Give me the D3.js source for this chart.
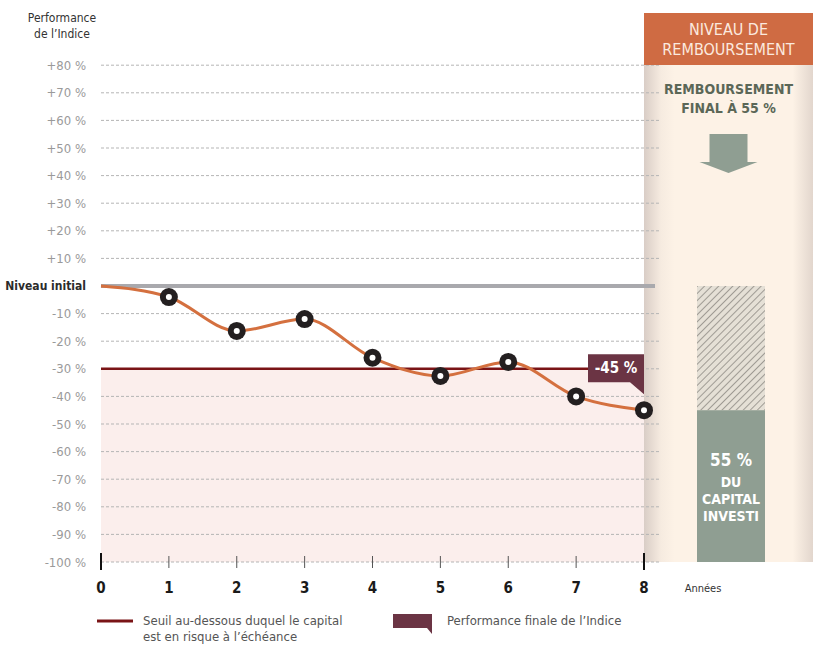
<!DOCTYPE html>
<html>
<head>
<meta charset="utf-8">
<script src="https://cdn.jsdelivr.net/npm/d3@7"></script>
<style>
  body { margin: 0; background: #fff; }
  svg { display: block; font-family: "Liberation Sans Narrow", "DejaVu Sans Condensed", "Roboto", sans-serif; }
</style>
</head>
<body>
<svg id="chart"></svg>
<script>
'use strict'

const width = 813,
      height = 645

// data
const years = [0, 1, 2, 3, 4, 5, 6, 7, 8]
const performance = [0, -4, -16.3, -12, -26, -32.6, -27.5, -40, -45]
const yTicks = [80, 70, 60, 50, 40, 30, 20, 10, 0, -10, -20, -30, -40, -50, -60, -70, -80, -90, -100]
const threshold = -30
const finalValue = -45
const repayment = 55

const svg = d3.select("#chart")
  .attr("width", width)
  .attr("height", height)

const x = d3.scaleLinear().domain([0, 8]).range([101, 644])
const y = d3.scaleLinear().domain([-100, 0]).range([562, 286])

const defs = svg.append("defs")
const grad = defs.append("linearGradient").attr("id", "panelShade")
grad.append("stop").attr("offset", "0%").attr("stop-color", "#d9cdc6")
grad.append("stop").attr("offset", "10%").attr("stop-color", "#f6ebe0")
grad.append("stop").attr("offset", "18%").attr("stop-color", "#fdf2e6")
grad.append("stop").attr("offset", "88%").attr("stop-color", "#fdf2e6")
grad.append("stop").attr("offset", "100%").attr("stop-color", "#e2d6cd")

const hatch = defs.append("pattern")
  .attr("id", "hatch")
  .attr("patternUnits", "userSpaceOnUse")
  .attr("width", 5).attr("height", 5)
  .attr("patternTransform", "rotate(45)")
hatch.append("rect").attr("width", 5).attr("height", 5).attr("fill", "#e5e0d6")
hatch.append("line").attr("x1", 0).attr("y1", 0).attr("x2", 0).attr("y2", 5)
  .attr("stroke", "#4a4744").attr("stroke-width", 0.9)

// risk zone below threshold
svg.append("rect")
  .attr("x", x(0)).attr("y", y(threshold))
  .attr("width", x(8) - x(0)).attr("height", y(-100) - y(threshold))
  .attr("fill", "#fbeeec")

// right panel
const panelX = 644
svg.append("rect")
  .attr("x", panelX).attr("y", 65)
  .attr("width", width - panelX).attr("height", y(-100) - 65)
  .attr("fill", "url(#panelShade)")

// gridlines
svg.append("g")
  .selectAll("line")
  .data(yTicks.filter(d => d !== 0))
  .enter().append("line")
    .attr("x1", x(0)).attr("x2", 660)
    .attr("y1", d => y(d)).attr("y2", d => y(d))
    .attr("stroke", "#b5b5b5")
    .attr("stroke-width", 1)
    .attr("stroke-dasharray", "3,2")

// y labels
svg.append("g")
  .selectAll("text")
  .data(yTicks)
  .enter().append("text")
    .attr("x", 86)
    .attr("y", d => y(d))
    .attr("dy", "0.35em")
    .attr("text-anchor", "end")
    .attr("font-size", d => d === 0 ? 12 : 13)
    .attr("font-weight", d => d === 0 ? "bold" : "normal")
    .attr("fill", d => d === 0 ? "#2b2b2b" : "#9a9a9a")
    .text(d => d === 0 ? "Niveau initial" : (d > 0 ? "+" + d : "-" + Math.abs(d)) + " %")

svg.append("text")
  .attr("x", 62).attr("y", 22)
  .attr("text-anchor", "middle").attr("font-size", 12).attr("fill", "#333")
  .text("Performance")
svg.append("text")
  .attr("x", 62).attr("y", 38)
  .attr("text-anchor", "middle").attr("font-size", 12).attr("fill", "#333")
  .text("de l\u2019Indice")

// initial level line
svg.append("line")
  .attr("x1", x(0)).attr("x2", 655)
  .attr("y1", y(0)).attr("y2", y(0))
  .attr("stroke", "#a9a9ad").attr("stroke-width", 4)

// threshold line
svg.append("line")
  .attr("x1", x(0)).attr("x2", x(8))
  .attr("y1", y(threshold)).attr("y2", y(threshold))
  .attr("stroke", "#7a1416").attr("stroke-width", 2.5)

// x ticks
svg.append("g")
  .selectAll("line")
  .data(years)
  .enter().append("line")
    .attr("x1", d => x(d)).attr("x2", d => x(d))
    .attr("y1", d => (d === 0 || d === 8) ? 553 : 556)
    .attr("y2", d => (d === 0 || d === 8) ? 570 : 568)
    .attr("stroke", d => (d === 0 || d === 8) ? "#111" : "#555")
    .attr("stroke-width", d => (d === 0 || d === 8) ? 2 : 1)

svg.append("g")
  .selectAll("text")
  .data(years)
  .enter().append("text")
    .attr("x", d => x(d)).attr("y", 593)
    .attr("text-anchor", "middle")
    .attr("font-size", 15).attr("font-weight", "bold").attr("fill", "#1a1a1a")
    .text(d => d)

svg.append("text")
  .attr("x", 703).attr("y", 592)
  .attr("text-anchor", "middle").attr("font-size", 11).attr("fill", "#333")
  .text("Années")

// performance curve
const line = d3.line()
  .x((d, i) => x(years[i]))
  .y(d => y(d))
  .curve(d3.curveMonotoneX)

svg.append("path")
  .datum(performance)
  .attr("d", line)
  .attr("fill", "none")
  .attr("stroke", "#d4703f")
  .attr("stroke-width", 3)

const markers = svg.append("g")
  .selectAll("g")
  .data(performance.slice(1))
  .enter().append("g")
    .attr("transform", (d, i) => `translate(${x(years[i + 1])},${y(d)})`)
markers.append("circle").attr("r", 9).attr("fill", "#231f20")
markers.append("circle").attr("r", 3).attr("fill", "#fff")

// final value label
const lx = x(8), ly = y(finalValue)
svg.append("path")
  .attr("d", `M${lx - 56},${ly - 56} H${lx} V${ly - 16} L${lx - 14},${ly - 28} H${lx - 56} Z`)
  .attr("fill", "#6b3444")
svg.append("text")
  .attr("x", lx - 28).attr("y", ly - 42)
  .attr("dy", "0.35em")
  .attr("text-anchor", "middle")
  .attr("font-size", 15).attr("font-weight", "bold").attr("fill", "#fff")
  .text(finalValue + " %")

// panel header
svg.append("rect")
  .attr("x", panelX).attr("y", 13)
  .attr("width", width - panelX).attr("height", 52)
  .attr("fill", "#cf6b43")
const cx = (panelX + width) / 2
svg.append("text").attr("x", cx).attr("y", 35)
  .attr("text-anchor", "middle").attr("font-size", 16).attr("fill", "#fbe9df")
  .text("NIVEAU DE")
svg.append("text").attr("x", cx).attr("y", 55)
  .attr("text-anchor", "middle").attr("font-size", 16).attr("fill", "#fbe9df")
  .text("REMBOURSEMENT")

svg.append("text").attr("x", cx).attr("y", 94)
  .attr("text-anchor", "middle").attr("font-size", 14).attr("font-weight", "bold").attr("fill", "#5b6757")
  .text("REMBOURSEMENT")
svg.append("text").attr("x", cx).attr("y", 113)
  .attr("text-anchor", "middle").attr("font-size", 14).attr("font-weight", "bold").attr("fill", "#5b6757")
  .text("FINAL À " + repayment + " %")

// arrow
svg.append("path")
  .attr("d", `M${cx - 19},134 H${cx + 19} V162 H${cx + 29} L${cx},173 L${cx - 29},162 H${cx - 19} Z`)
  .attr("fill", "#8f9e92")

// repayment bar
const barX = 697, barW = 68
svg.append("rect")
  .attr("x", barX).attr("y", y(0))
  .attr("width", barW).attr("height", y(repayment - 100) - y(0))
  .attr("fill", "url(#hatch)")
svg.append("rect")
  .attr("x", barX).attr("y", y(repayment - 100))
  .attr("width", barW).attr("height", y(-100) - y(repayment - 100))
  .attr("fill", "#8f9e92")

const barLabels = [[repayment + " %", 466, 17], ["DU", 487, 14], ["CAPITAL", 504, 14], ["INVESTI", 521, 14]]
svg.append("g")
  .selectAll("text")
  .data(barLabels)
  .enter().append("text")
    .attr("x", barX + barW / 2).attr("y", d => d[1])
    .attr("text-anchor", "middle")
    .attr("font-size", d => d[2]).attr("font-weight", "bold").attr("fill", "#fff")
    .text(d => d[0])

// legend
svg.append("line")
  .attr("x1", 97).attr("x2", 133).attr("y1", 621).attr("y2", 621)
  .attr("stroke", "#7a1416").attr("stroke-width", 3)
svg.append("text").attr("x", 143).attr("y", 625)
  .attr("font-size", 13).attr("fill", "#555")
  .text("Seuil au-dessous duquel le capital")
svg.append("text").attr("x", 143).attr("y", 641)
  .attr("font-size", 13).attr("fill", "#555")
  .text("est en risque à l\u2019échéance")

svg.append("path")
  .attr("d", "M393,614 H432 V634 L427,628 H393 Z")
  .attr("fill", "#6b3444")
svg.append("text").attr("x", 447).attr("y", 625)
  .attr("font-size", 13).attr("fill", "#555")
  .text("Performance finale de l\u2019Indice")
</script>
</body>
</html>
